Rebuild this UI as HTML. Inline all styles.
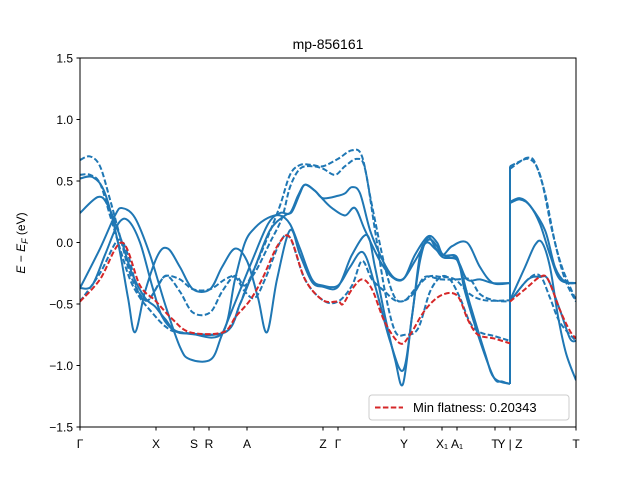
<!DOCTYPE html>
<html><head><meta charset="utf-8"><style>
body{margin:0;background:#fff;}
svg{display:block;font-family:"Liberation Sans","DejaVu Sans",sans-serif;}
</style></head><body>
<svg id="chart" width="640" height="480" viewBox="0 0 640 480" xmlns="http://www.w3.org/2000/svg">
<rect width="640" height="480" fill="#fff"/>
<text x="328" y="49" font-size="14" text-anchor="middle">mp-856161</text>
<g id="plot"></g>
<g id="axes"></g>
<text transform="translate(25,243) rotate(-90)" font-size="12" text-anchor="middle"><tspan font-style="italic">E</tspan> − <tspan font-style="italic">E</tspan><tspan font-style="italic" font-size="9" dy="3">F</tspan><tspan dy="-3"> (eV)</tspan></text>
<g>
<rect x="369" y="395" width="200" height="25" rx="3" fill="#fff" stroke="#ccc" stroke-width="1"/>
<line x1="375" y1="407.5" x2="403" y2="407.5" stroke="#d62728" stroke-width="2" stroke-dasharray="5.5,2.4"/>
<text x="413" y="412" font-size="13">Min flatness: 0.20343</text>
</g>
</svg>
<script>
const xTicks=[80,156,194,209,247,323,338,404,442,457,495,510,576];
const xTickLabels=["Γ","X","S","R","A","Z","Γ","Y","X₁","A₁","T","Y | Z","T"];
const yTicks=[1.5,1.0,0.5,0.0,-0.5,-1.0,-1.5];
const yTickLabels=["1.5","1.0","0.5","0.0","−0.5","−1.0","−1.5"];
const bandD1=[[80,0.67],[90,0.7],[100,0.62],[110,0.35],[120,0.05],[130,-0.25],[140,-0.42],[148,-0.47],[158,-0.35],[167,-0.27],[180,-0.4],[193,-0.57],[210,-0.57],[222,-0.4],[235,-0.27],[245,-0.35],[255,-0.2],[268,0.05],[280,0.3],[290,0.55],[300,0.63],[312,0.63],[323,0.62],[338,0.68],[352,0.75],[362,0.7],[372,0.3],[385,-0.2],[395,-0.45],[405,-0.47],[415,-0.4],[425,-0.28],[441,-0.3],[457,-0.3],[470,-0.3],[480,-0.42],[494,-0.47],[510,-0.48]];
const bandD2=[[80,0.55],[90,0.55],[100,0.48],[110,0.22],[120,-0.05],[130,-0.3],[140,-0.45],[150,-0.55],[165,-0.68],[180,-0.73],[225,-0.73],[240,-0.5],[247,-0.35],[258,-0.2],[270,0.0],[282,0.2],[290,0.45],[300,0.6],[312,0.62],[323,0.6],[335,0.55],[345,0.62],[357,0.68],[365,0.6],[375,0.1],[385,-0.4],[395,-0.72],[405,-0.75],[418,-0.7],[430,-0.4],[441,-0.28],[450,-0.3],[460,-0.45],[470,-0.65],[480,-0.73],[494,-0.76],[510,-0.8]];
const bandD3=[[80,-0.48],[100,-0.25],[118,0.02],[128,-0.1],[138,-0.4],[148,-0.47],[160,-0.32],[167,-0.27],[180,-0.3],[193,-0.38],[210,-0.38],[225,-0.3],[235,-0.28],[245,-0.4],[255,-0.45],[265,-0.3],[280,0.0],[290,0.04],[305,-0.3],[323,-0.47],[338,-0.48],[352,-0.35],[362,-0.15],[372,-0.3],[385,-0.4],[395,-0.47],[405,-0.47],[415,-0.38],[428,-0.28],[441,-0.28],[455,-0.3],[470,-0.42],[485,-0.47],[510,-0.47]];
const bandS1=[[80,0.52],[93,0.53],[105,0.4],[118,0.0],[128,-0.45],[135,-0.73],[145,-0.4],[158,-0.1],[168,-0.05],[180,-0.2],[193,-0.38],[210,-0.38],[222,-0.2],[235,-0.05],[247,-0.15],[258,-0.45],[267,-0.73],[277,-0.3],[290,0.1],[300,-0.1],[312,-0.32],[323,-0.36],[338,-0.36],[352,-0.1],[367,0.06],[375,-0.2],[385,-0.6],[395,-0.95],[403,-1.15],[412,-0.6],[420,-0.15],[428,0.04],[436,-0.05],[443,-0.12],[457,-0.12],[465,-0.4],[480,-0.8],[494,-1.1],[502,-1.13],[510,-1.15]];
const bandS2=[[80,0.24],[98,0.37],[108,0.3],[120,0.05],[132,-0.25],[145,-0.45],[155,-0.52],[165,-0.62],[180,-0.73],[225,-0.73],[240,-0.5],[255,-0.2],[270,0.1],[285,0.22],[292,0.25],[300,0.4],[305,0.47],[315,0.42],[323,0.36],[338,0.38],[345,0.4],[352,0.45],[360,0.4],[370,0.1],[380,-0.1],[390,-0.25],[397,-0.3],[405,-0.28],[415,-0.1],[428,0.05],[437,0.0],[443,-0.1],[457,-0.14],[470,-0.5],[485,-0.9],[494,-1.1],[510,-1.15]];
const bandS3=[[80,-0.37],[100,-0.05],[115,0.22],[122,0.28],[135,0.2],[150,-0.1],[165,-0.5],[180,-0.85],[190,-0.95],[211,-0.95],[222,-0.75],[237,-0.45],[252,-0.15],[268,0.15],[280,0.24],[290,0.24],[298,0.38],[305,0.47],[315,0.42],[323,0.35],[332,0.28],[345,0.22],[355,0.28],[365,0.1],[380,-0.15],[392,-0.28],[403,-0.3],[415,-0.15],[428,0.02],[437,-0.03],[443,-0.12],[457,-0.14],[467,-0.3],[480,-0.3],[493,-0.33],[510,-0.33]];
const bandS4=[[80,-0.37],[92,-0.35],[105,-0.1],[118,0.15],[128,0.18],[140,0.0],[152,-0.35],[162,-0.6],[175,-0.72],[190,-0.74],[222,-0.74],[235,-0.3],[245,0.0],[255,0.12],[268,0.2],[280,0.22],[290,0.15],[300,-0.05],[312,-0.3],[323,-0.35],[338,-0.35],[350,-0.2],[363,-0.08],[375,-0.35],[390,-0.8],[403,-1.04],[412,-0.6],[420,-0.1],[427,0.0],[435,-0.05],[443,-0.1],[452,-0.03],[467,0.0],[480,-0.2],[493,-0.33],[510,-0.33]];
const bandRed=[[80,-0.48],[100,-0.3],[122,0],[140,-0.35],[155,-0.47],[172,-0.62],[190,-0.73],[223,-0.73],[236,-0.6],[250,-0.47],[262,-0.3],[278,-0.02],[290,0.04],[305,-0.3],[323,-0.47],[338,-0.48],[343,-0.5],[352,-0.38],[362,-0.3],[372,-0.38],[385,-0.65],[400,-0.82],[410,-0.75],[425,-0.55],[441,-0.43],[457,-0.43],[468,-0.63],[478,-0.75],[494,-0.78],[510,-0.82]];
const bandD1b=[[510,0.62],[520,0.66],[528,0.69],[535,0.65],[545,0.4],[555,0.0],[565,-0.3],[576,-0.48]];
const bandD2b=[[510,0.6],[528,0.68],[540,0.55],[552,0.1],[562,-0.2],[576,-0.47]];
const bandD3b=[[510,-0.48],[528,-0.3],[540,-0.27],[550,-0.45],[560,-0.65],[576,-0.8]];
const bandS1b=[[510,0.32],[520,0.35],[530,0.3],[540,0.15],[550,-0.1],[560,-0.3],[576,-0.33]];
const bandS2b=[[510,0.33],[520,0.36],[530,0.3],[545,0.1],[555,-0.2],[565,-0.32],[576,-0.33]];
const bandS3b=[[510,-0.47],[525,-0.2],[535,-0.02],[542,0.0],[550,-0.2],[558,-0.6],[566,-0.9],[576,-1.12]];
const bandS4b=[[510,-0.48],[528,-0.3],[540,-0.28],[548,-0.3],[560,-0.55],[570,-0.78],[576,-0.8]];
const bandRedb=[[510,-0.48],[525,-0.38],[540,-0.28],[548,-0.3],[560,-0.55],[570,-0.72],[576,-0.78]];
const jumpLine=[[510,-1.15],[510,0.62]];

const X0=80,X1=576,Y0=58,Y1=427;
function sx(k){return X0+(k-80)/(576-80)*(X1-X0);}
function sy(e){return Y0+(1.5-e)/3*(Y1-Y0);}
const NS="http://www.w3.org/2000/svg";
function pathFor(pts){
  const p=pts.map(q=>[sx(q[0]),sy(q[1])]);
  let d="M"+p[0][0]+","+p[0][1];
  for(let i=0;i<p.length-1;i++){
    const a=p[i-1]||p[i],b=p[i],c=p[i+1],e=p[i+2]||c;
    const c1=[b[0]+(c[0]-a[0])/6,b[1]+(c[1]-a[1])/6];
    const c2=[c[0]-(e[0]-b[0])/6,c[1]-(e[1]-b[1])/6];
    d+=" C"+c1[0]+","+c1[1]+" "+c2[0]+","+c2[1]+" "+c[0]+","+c[1];
  }
  return d;
}
const plot=document.getElementById('plot');
const clip=document.createElementNS(NS,'clipPath');clip.setAttribute('id','cp');
const cr=document.createElementNS(NS,'rect');cr.setAttribute('x',X0);cr.setAttribute('y',Y0);cr.setAttribute('width',X1-X0);cr.setAttribute('height',Y1-Y0);
clip.appendChild(cr);plot.appendChild(clip);
plot.setAttribute('clip-path','url(#cp)');
const series=[
 ['band-d1',bandD1,true,'#1f77b4'],['band-d2',bandD2,true,'#1f77b4'],['band-d3',bandD3,true,'#1f77b4'],
 ['band-s1',bandS1,false,'#1f77b4'],['band-s2',bandS2,false,'#1f77b4'],['band-s3',bandS3,false,'#1f77b4'],['band-s4',bandS4,false,'#1f77b4'],
 ['band-d1-zt',bandD1b,true,'#1f77b4'],['band-d2-zt',bandD2b,true,'#1f77b4'],['band-d3-zt',bandD3b,true,'#1f77b4'],
 ['band-s1-zt',bandS1b,false,'#1f77b4'],['band-s2-zt',bandS2b,false,'#1f77b4'],['band-s3-zt',bandS3b,false,'#1f77b4'],['band-s4-zt',bandS4b,false,'#1f77b4'],
 ['jump-line',jumpLine,false,'#1f77b4'],
 ['min-flatness-band',bandRed,true,'#d62728'],['min-flatness-band-zt',bandRedb,true,'#d62728']
];
series.forEach(s=>{
  const el=document.createElementNS(NS,'path');
  el.setAttribute('d',pathFor(s[1]));
  el.setAttribute('fill','none');el.setAttribute('stroke',s[3]);el.setAttribute('stroke-width','2');
  if(s[2])el.setAttribute('stroke-dasharray','5.5,2.4');
  
  
  plot.appendChild(el);
});
const axes=document.getElementById('axes');
const fr=document.createElementNS(NS,'rect');
fr.setAttribute('x',X0);fr.setAttribute('y',Y0);fr.setAttribute('width',X1-X0);fr.setAttribute('height',Y1-Y0);
fr.setAttribute('fill','none');fr.setAttribute('stroke','#000');fr.setAttribute('stroke-width','1');


axes.appendChild(fr);
yTicks.forEach((v,i)=>{
  const y=sy(v);
  const t=document.createElementNS(NS,'line');
  t.setAttribute('x1',X0-3.5);t.setAttribute('x2',X0);t.setAttribute('y1',y);t.setAttribute('y2',y);t.setAttribute('stroke','#000');
  
  
  axes.appendChild(t);
  const l=document.createElementNS(NS,'text');
  l.setAttribute('x',X0-7);l.setAttribute('y',y+4.5);l.setAttribute('font-size','12');l.setAttribute('text-anchor','end');
  l.textContent=yTickLabels[i];
  
  
  axes.appendChild(l);
});
xTicks.forEach((v,i)=>{
  const x=sx(v);
  const t=document.createElementNS(NS,'line');
  t.setAttribute('x1',x);t.setAttribute('x2',x);t.setAttribute('y1',Y1);t.setAttribute('y2',Y1+3.5);t.setAttribute('stroke','#000');
  
  
  axes.appendChild(t);
  const l=document.createElementNS(NS,'text');
  l.setAttribute('x',x);l.setAttribute('y',Y1+21);l.setAttribute('font-size','12');l.setAttribute('text-anchor','middle');
  l.textContent=xTickLabels[i];
  
  
  axes.appendChild(l);
});
</script>
</body></html>
